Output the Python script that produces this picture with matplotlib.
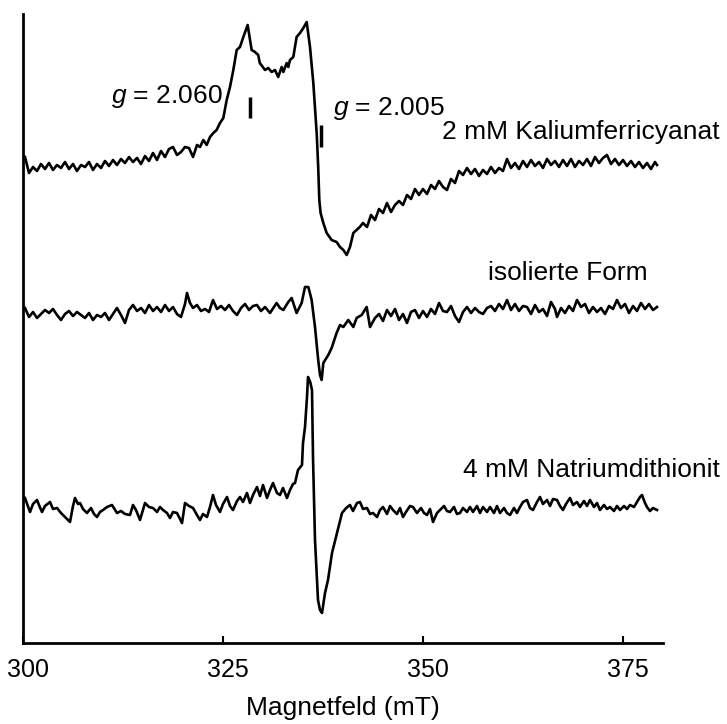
import numpy as np
import matplotlib
matplotlib.use("Agg")
import matplotlib.pyplot as plt
import matplotlib.transforms as mtransforms

plt.rcParams['font.family'] = ['Liberation Sans', 'DejaVu Sans']
plt.rcParams['mathtext.fontset'] = 'custom'
plt.rcParams['mathtext.rm'] = 'Liberation Sans'
plt.rcParams['mathtext.it'] = 'Liberation Sans:italic'

# ---- data (magnetic field in mT, signal in arbitrary units) ----
field_ferri = [300.25, 300.75, 301.25, 301.75, 302.25, 302.75, 303.25, 303.75, 304.25, 304.75,
               305.25, 305.75, 306.25, 306.75, 307.25, 307.75, 308.25, 308.75, 309.25, 309.75,
               310.25, 310.75, 311.25, 311.75, 312.25, 312.75, 313.25, 313.75, 314.25, 314.75,
               315.25, 315.75, 316.25, 316.75, 317.25, 317.75, 318.25, 318.75, 319.25, 319.75,
               320.25, 320.75, 321.25, 321.75,
               322.125, 322.54, 322.96, 323.375, 323.79, 324.2, 324.625, 325.04, 325.46, 325.875,
               326.29, 326.71, 327.125, 327.54, 328.08, 328.58, 329.0, 329.4, 329.6, 330.25,
               330.66, 331.08, 331.5, 331.9, 332.33, 332.54, 332.96, 333.16, 333.375, 333.79,
               334.2, 334.625, 335.04, 335.46, 335.875, 336.29, 336.71, 336.9, 337.04, 337.2,
               337.54, 337.96, 338.58, 339.2, 339.625, 340.04, 340.46, 340.875, 341.29, 341.7,
               342.1,
               342.5, 343, 343.5, 344, 344.5, 345, 345.5, 346, 346.5, 347,
               347.5, 348, 348.5, 349, 349.5, 350, 350.5, 351, 351.5, 352,
               352.5, 353, 353.5, 354, 354.5, 355, 355.5, 356, 356.5, 357,
               357.5, 358, 358.5, 359, 359.5, 360, 360.5, 361, 361.5, 362,
               362.5, 363, 363.5, 364, 364.5, 365, 365.5, 366, 366.5, 367,
               367.5, 368, 368.5, 369, 369.5, 370, 370.5, 371, 371.5, 372,
               372.5, 373, 373.5, 374, 374.5, 375, 375.5, 376, 376.5, 377,
               377.5, 378, 378.5, 379, 379.25]
signal_ferri = [8, -8, -2, -6, 1, -4, 2, -5, 0, -3,
                3, -4, 1, -6, 0, -2, 3, -5, 1, -3,
                4, -1, 5, 0, 6, 2, 8, 3, 7, 1,
                9, 4, 12, 5, 14, 8, 16, 18, 10, 13,
                18, 17, 8, 20,
                18, 25, 20, 28, 32, 35, 42, 47, 65, 78,
                95, 115, 118, 128, 140, 115, 113, 110, 102, 95,
                97, 93, 95, 88, 98, 93, 102, 98, 105, 108,
                128, 132, 137, 143, 118, 82, 32, -2, -35, -48,
                -58, -68, -75, -77, -82, -85, -90, -82, -68, -65,
                -62,
                -58, -62, -50, -55, -44, -48, -38, -47, -40, -36,
                -40, -30, -34, -24, -30, -24, -29, -20, -24, -16,
                -22, -25, -14, -18, -6, -10, -3, -9, -4, -11,
                -5, -9, -2, -8, -3, -6, 6, -3, 2, -4,
                4, -2, 5, -1, 3, -3, 6, 0, 4, -2,
                5, -1, 6, -2, 4, 0, 6, -1, 8, 2,
                7, 10, 1, 6, 0, 5, -1, 4, -2, 3,
                -3, 2, -4, 3, 0]

field_iso = [300.25, 300.75, 301.25, 301.75, 302.25, 302.75, 303.25, 303.75, 304.25, 304.75,
             305.25, 305.75, 306.25, 306.75, 307.25, 307.75, 308.25, 308.75, 309.25, 309.75,
             310.25, 310.75, 311.25, 311.75, 312.25, 312.75, 313.25, 313.75, 314.25, 314.75,
             315.25, 315.75, 316.25, 316.75, 317.25, 317.75, 318.25, 318.75, 319.25, 319.75,
             320.25, 320.5, 320.875, 321.25, 321.75, 322.25, 322.75, 323.25, 323.75, 324.25,
             324.75, 325.25, 325.75, 326.25, 326.75, 327.25, 327.75, 328.25, 328.75, 329.25,
             329.75, 330.25, 330.875, 331.7, 332.125, 332.54, 333.16, 333.58, 334.2, 334.83,
             335.25, 335.67, 336.08, 336.5, 336.9, 337.125, 337.33, 337.54, 338.16, 338.58,
             339.2, 339.625, 340.04, 340.66, 341.29, 341.7, 342.33, 342.96, 343.375, 344,
             344.5, 345, 345.5, 346, 346.5, 347, 347.5, 348, 348.5, 349,
             349.5, 350, 350.5, 351, 351.5, 352, 352.5, 353, 353.5, 354,
             354.5, 355, 355.5, 356, 356.5, 357, 357.5, 358, 358.5, 359,
             359.5, 360, 360.5, 361, 361.5, 362, 362.5, 363, 363.5, 364,
             364.5, 365, 365.5, 366, 366.5, 366.75, 367.25, 367.75, 368.25, 368.75,
             369.25, 369.75, 370.25, 370.75, 371.25, 371.75, 372.25, 372.75, 373.25, 373.75,
             374.25, 374.75, 375.25, 375.75, 376.25, 376.75, 377.25, 377.75, 378.25, 378.75,
             379.25]
signal_iso = [4, -5, 0, -6, -2, 2, -1, 3, -3, -8,
              -2, 1, -4, 0, -3, -6, -1, -8, -3, -5,
              -1, -8, -2, 4, -3, -11, 2, 7, 1, 4,
              -1, 7, 1, 5, 0, 7, 1, 5, -2, -5,
              8, 19, 9, 4, 7, 1, 3, 0, 12, 3,
              6, 2, 7, 1, -3, 4, 8, 2, 6, 7,
              1, 5, -1, 9, 4, 2, 10, 14, -1, 9,
              25, 25, 12, -15, -48, -63, -68, -51, -43, -36,
              -21, -13, -15, -8, -15, -6, -3, 5, -15, -6,
              -2, -9, 2, -4, 3, -8, -2, -11, 0, 2,
              -6, 1, -5, 3, -2, 9, 1, 0, 6, -4,
              -10, 0, 5, -1, 4, 0, -2, 4, 6, 1,
              8, 3, 12, 2, 8, 1, 6, 5, -2, 7,
              0, 3, -4, 10, 3, -5, 4, -1, 6, 1,
              12, 5, 8, -1, 5, 0, 4, -2, 6, 3,
              12, 4, 8, -1, 6, 1, 9, 3, 8, 2,
              5]

field_dith = [300.25, 300.6, 300.875, 301.25, 301.75, 302.1, 302.375, 302.75, 303.375, 303.75,
              304.25, 304.75, 305.25, 305.875, 306.25, 306.5, 306.875, 307.125, 307.5, 308,
              308.5, 308.875, 309.25, 309.625, 310, 310.5, 311.125, 311.75, 312.25, 312.75,
              313.375, 313.75, 314.125, 314.625, 315.25, 315.75, 316.25, 316.75, 317.125, 317.5,
              318, 318.375, 318.75, 319.25, 319.875, 320.25, 320.75, 321.25, 321.75, 322.125,
              322.5, 323, 323.375, 323.75, 324.125, 324.625, 325, 325.5, 325.875, 326.25,
              326.75, 327.125, 327.5, 328, 328.375, 328.75, 329.25, 329.625, 330, 330.5,
              330.875, 331.25, 331.75, 332.125, 332.5, 333, 333.375, 333.75, 334, 334.375,
              334.875, 335, 335.25, 335.5, 335.625, 335.9, 336.125, 336.25, 336.5, 336.875,
              337.125, 337.375, 337.75, 338.125, 338.625, 339.25, 339.875,
              340.4, 340.875, 341.25, 341.75, 342.125, 342.5, 343, 343.375, 343.75, 344.25,
              344.625, 345, 345.5, 345.875, 346.25, 346.75, 347.125, 347.5, 347.875, 348.375,
              348.75, 349.25, 349.75, 350.125, 350.5, 350.875, 351.25, 351.75, 352.125, 352.625,
              353, 353.375, 353.875, 354.25, 354.625, 355, 355.5, 355.875, 356.25, 356.75,
              357.125, 357.5, 358, 358.375, 358.875, 359.25, 359.625, 360.125, 360.5, 360.875,
              361.375, 361.75, 362.125, 362.5, 363, 363.375, 363.75, 364.25, 364.625, 365,
              365.5, 365.875, 366.25, 366.75, 367.125, 367.5, 367.875, 368.375, 368.75, 369.25,
              369.625, 370.125, 370.5, 370.875, 371.375, 371.75, 372.125, 372.625, 373, 373.375,
              373.875, 374.25, 374.625, 375.125, 375.5, 375.875, 376.375, 376.75, 377.125, 377.375,
              377.75, 378, 378.375, 378.75, 379.25]
signal_dith = [12, 4, -2, 6, 10, 3, -2, 4, 8, 1,
               2, -3, -7, -12, 4, 12, 6, 7, 1, -3,
               2, -4, -7, -2, 0, 3, 5, -3, -1, -4,
               -5, 5, 0, -10, 7, 3, 2, -2, 3, 0,
               -3, -8, -2, -3, -13, 7, 4, 2, -5, -10,
               -4, -7, 3, 15, 5, -2, 6, 13, 4, 0,
               9, 13, 8, 17, 7, 15, 23, 14, 25, 12,
               20, 27, 17, 15, 22, 12, 20, 26, 27, 40,
               45, 67, 83, 113, 133, 128, 120, 53, -30, -90,
               -100, -103, -83, -70, -43, -23, -3,
               2, 5, -1, 7, 8, 1, 2, -4, -3, -7,
               0, 3, -4, 4, 0, -4, 2, -7, -2, 4,
               3, -3, 2, -3, -5, 1, -12, -3, 0, 4,
               -1, -2, 3, -4, -3, 2, -2, 3, -2, 4,
               -3, 3, -2, 3, -3, 4, -3, 2, -3, -5,
               2, -3, 3, 8, 10, 2, 0, 8, 13, 6,
               10, 4, 11, 10, 4, 0, 6, 12, 5, 8,
               3, 9, 4, 10, 3, 7, 0, 5, 1, 3,
               -1, 4, 0, 4, 1, 5, 3, 8, 13, 15,
               7, 3, -1, 2, 0]

labels = ["2 mM Kaliumferricyanat", "isolierte Form", "4 mM Natriumdithionit"]
offsets = [478, 331, 133]
xticks = [300, 325, 350, 375]
g_values = ["2.060", "2.005"]
g_fields = [328.4, 337.3]

# ---- figure ----
fig = plt.figure(figsize=(7.27, 7.24), dpi=100)
ax = fig.add_axes([23/727, 81/724, 640/727, 629/724])

series = [(field_ferri, signal_ferri), (field_iso, signal_iso), (field_dith, signal_dith)]
for (f, s), off in zip(series, offsets):
    ax.plot(f, np.array(s) + off, color='black', lw=1.9, solid_joinstyle='round')

ax.set_xlim(300, 380)
ax.set_ylim(0, 629)
ax.spines['top'].set_visible(False)
ax.spines['right'].set_visible(False)
ax.spines['left'].set_linewidth(2)
ax.spines['bottom'].set_linewidth(2)
ax.set_yticks([])
ax.set_xticks(xticks)
ax.set_xticklabels([str(t) for t in xticks])
ax.tick_params(axis='x', direction='in', length=5, width=1.5, labelsize=18, pad=11)
shift = mtransforms.ScaledTranslation(5/100, 0, fig.dpi_scale_trans)
for lab in ax.get_xticklabels():
    lab.set_transform(lab.get_transform() + shift)
ax.set_xlabel("Magnetfeld (mT)", fontsize=19, labelpad=10)

# spectrum labels
ax.text(387.1, 511, labels[0], fontsize=19, ha='right', va='center', clip_on=False)
ax.text(378.1, 370, labels[1], fontsize=19, ha='right', va='center')
ax.text(387.1, 173, labels[2], fontsize=19, ha='right', va='center', clip_on=False)

# g-value markers
ax.text(324.9, 546, r"$g$ = " + g_values[0], fontsize=19, ha='right', va='center')
ax.text(338.75, 535, r"$g$ = " + g_values[1], fontsize=19, ha='left', va='center')
ax.plot([g_fields[0], g_fields[0]], [525, 546], color='black', lw=2.5, solid_capstyle='butt')
ax.plot([g_fields[1], g_fields[1]], [496, 518], color='black', lw=2.5, solid_capstyle='butt')

fig.savefig("out.png", dpi=100)
